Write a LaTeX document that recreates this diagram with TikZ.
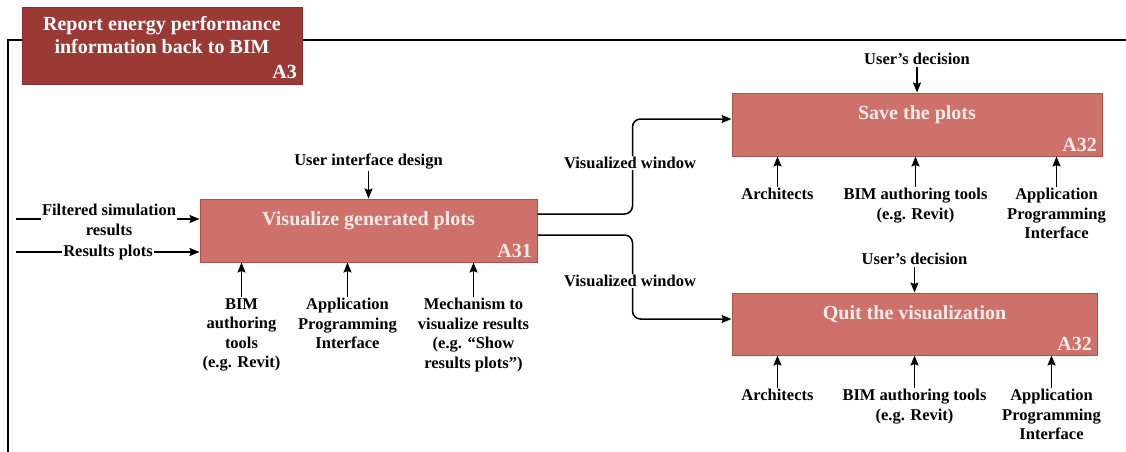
\documentclass[tikz,border=0pt]{standalone}
\usepackage{fontspec}
\setmainfont{Liberation Serif}
\usetikzlibrary{positioning}
\usetikzlibrary{arrows.meta}

\definecolor{titlered}{HTML}{9B3A35}
\definecolor{titleedge}{HTML}{86312D}
\definecolor{actred}{HTML}{CD716A}
\definecolor{actedge}{HTML}{AF514B}
\definecolor{acttext}{HTML}{F8ECEA}

\begin{document}
\begin{tikzpicture}[
            x = 1pt, y = -1pt, % work on a pixel grid, y going down
            > = {Stealth[length=10pt, width=8pt, inset=1.5pt]}, % arrow head style
            line width = 1.5pt % line style
        ]

        \tikzstyle{activity}=[
            draw = actedge,
            fill = actred,
            line width = 1pt,
            inner sep = 0pt
        ]
        \tikzstyle{boxtitle}=[text = acttext, font = \fontsize{20}{23}\selectfont\bfseries]
        \tikzstyle{boxid}=[boxtitle, inner sep = 0pt, anchor = south east]
        \tikzstyle{lbl}=[font = \fontsize{16.5}{19.5}\selectfont\bfseries, align = center, inner sep = 1pt]

        \useasboundingbox (0,0) rectangle (1126,452);

	% outer frame
        \draw[line width = 2pt] (8,452) -- (8,40) -- (1126,40);

	% parent activity
        \node[activity, draw = titleedge, fill = titlered, minimum width = 280pt, minimum height = 76pt] (A3) at (162,46) {};
        \node[boxtitle, text = white, align = center] (A3t) at (162,35.5) {Report energy performance\\information back to BIM};
        \node[boxid, text = white] (A3n) at ([xshift=-5pt, yshift=5pt]A3.south east) {A3};

	% visualize
        \node[activity, minimum width = 337pt, minimum height = 63pt] (A31) at (368.5,230.5) {};
        \node[boxtitle] (A31t) at ([yshift=-22pt]A31.north) {Visualize generated plots};
        \node[boxid] (A31n) at ([xshift=-5pt, yshift=4pt]A31.south east) {A31};

        \coordinate (fin) at (16,219);
        \coordinate (rin) at (16,252);
        \draw[->] (fin) -- (fin -| A31.west);
        \draw[->] (rin) -- (rin -| A31.west);
        \node[lbl, fill = white] (filt) at (109,220) {Filtered simulation\\results};
        \node[lbl, fill = white] (rplots) at (108,252.5) {Results plots};

        \node[lbl, above = 28pt of A31] (uid) {User interface design};
        \draw[->] (uid) -- (uid |- A31.north);

        \node[lbl, anchor = north] (bim1) at ([xshift=42pt, yshift=-34pt]A31.south west) {BIM\\authoring\\tools\\(e.g. Revit)};
        \node[lbl, anchor = north] (api1) at ([xshift=148pt, yshift=-34pt]A31.south west) {Application\\Programming\\Interface};
        \node[lbl, anchor = north] (mech) at ([xshift=274pt, yshift=-34pt]A31.south west) {Mechanism to\\visualize results\\(e.g. “Show\\results plots”)};
        \foreach \m in {bim1, api1, mech}
            \draw[->] (\m.north) -- (\m.north |- A31.south);

	% save
        \node[activity, minimum width = 370pt, minimum height = 63pt] (A32s) at (917,124.5) {};
        \node[boxtitle] (A32st) at ([yshift=-22pt]A32s.north) {Save the plots};
        \node[boxid] (A32sn) at ([xshift=-5pt, yshift=4pt]A32s.south east) {A32};

        \node[lbl, above = 26pt of A32s] (dec1) {User’s decision};
        \draw[->] (dec1) -- (dec1 |- A32s.north);

        \node[lbl, anchor = north] (arch1) at ([xshift=46pt, yshift=-30pt]A32s.south west) {Architects};
        \node[lbl, anchor = north] (bim2) at ([xshift=184pt, yshift=-30pt]A32s.south west) {BIM authoring tools\\(e.g. Revit)};
        \node[lbl, anchor = north] (api2) at ([xshift=325pt, yshift=-30pt]A32s.south west) {Application\\Programming\\Interface};
        \foreach \m in {arch1, bim2, api2}
            \draw[->] (\m.north) -- (\m.north |- A32s.south);

	% quit
        \node[activity, minimum width = 365pt, minimum height = 62pt] (A32q) at (914.5,324) {};
        \node[boxtitle] (A32qt) at ([yshift=-22pt]A32q.north) {Quit the visualization};
        \node[boxid] (A32qn) at ([xshift=-5pt, yshift=4pt]A32q.south east) {A32};

        \node[lbl, above = 26pt of A32q] (dec2) {User’s decision};
        \draw[->] (dec2) -- (dec2 |- A32q.north);

        \node[lbl, anchor = north] (arch2) at ([xshift=46pt, yshift=-32pt]A32q.south west) {Architects};
        \node[lbl, anchor = north] (bim3) at ([xshift=183pt, yshift=-32pt]A32q.south west) {BIM authoring tools\\(e.g. Revit)};
        \node[lbl, anchor = north] (api3) at ([xshift=320pt, yshift=-32pt]A32q.south west) {Application\\Programming\\Interface};
        \foreach \m in {arch2, bim3, api3}
            \draw[->] (\m.north) -- (\m.north |- A32q.south);

	% window flows
        \draw[->, rounded corners = 8pt] ([yshift=16.5pt]A31.east) -- ++(95,0) |- ([yshift=5.5pt]A32s.west);
        \draw[->, rounded corners = 8pt] ([yshift=-4.5pt]A31.east) -- ++(95,0) |- ([yshift=5pt]A32q.west);
        \node[lbl, fill = white] (win1) at (630,163) {Visualized window};
        \node[lbl, fill = white] (win2) at (630,281) {Visualized window};

  \end{tikzpicture}
\end{document}
